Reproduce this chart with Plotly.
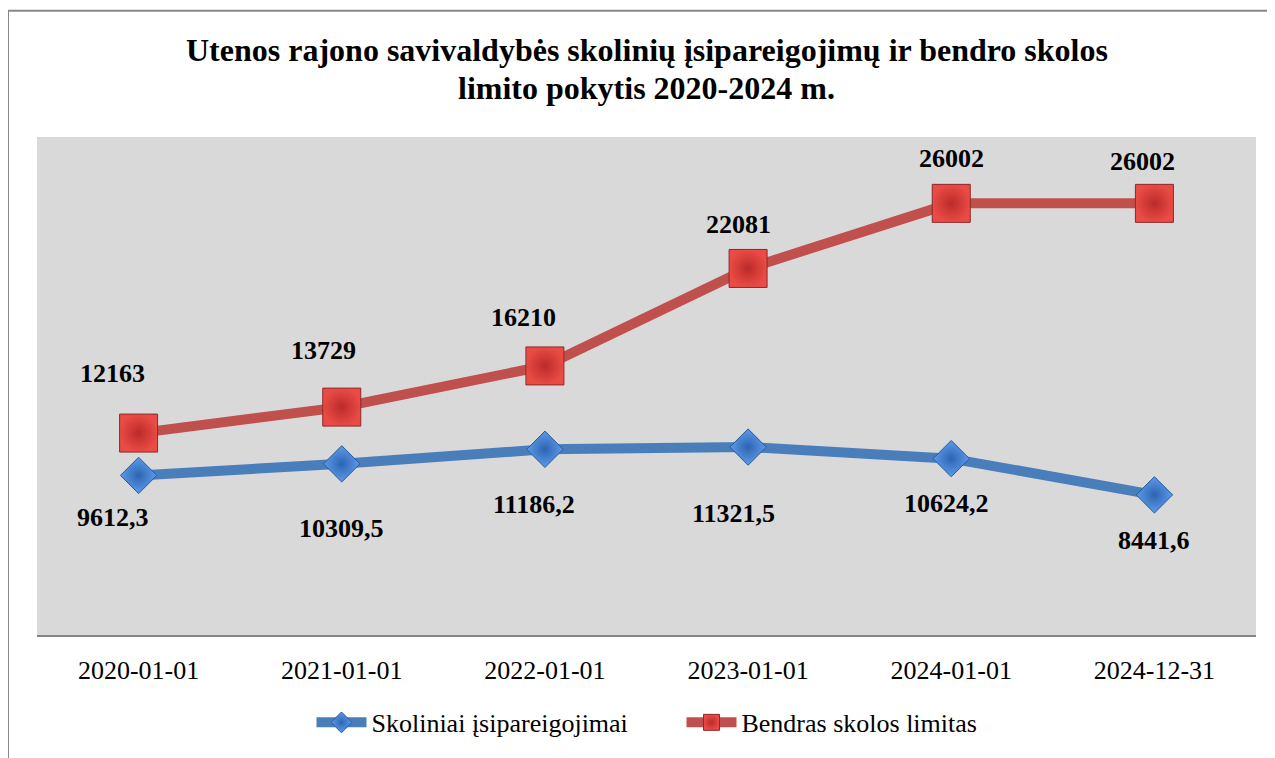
import plotly.graph_objects as go

categories = ["2020-01-01", "2021-01-01", "2022-01-01", "2023-01-01", "2024-01-01", "2024-12-31"]
skoliniai = [9612.3, 10309.5, 11186.2, 11321.5, 10624.2, 8441.6]
limitas = [12163, 13729, 16210, 22081, 26002, 26002]
skoliniai_labels = ["9612,3", "10309,5", "11186,2", "11321,5", "10624,2", "8441,6"]
limitas_labels = ["12163", "13729", "16210", "22081", "26002", "26002"]
title_lines = ["Utenos rajono savivaldybės skolinių įsipareigojimų ir bendro skolos",
               "limito pokytis 2020-2024 m."]

# label offsets (pixels) for data labels
blue_dx = [-26, 0, -11, -15, -5, 0]
blue_dy = [-42, -65, -55, -66, -45, -46]
red_dx = [-26, -18, -21, -10, 0, -12]
red_dy = [60, 57, 48, 44, 45, 42]

FONT = "Liberation Serif, Times New Roman, serif"

fig = go.Figure()
fig.add_trace(go.Scatter(
    x=categories, y=skoliniai, mode="lines+markers", name="Skoliniai įsipareigojimai",
    line=dict(color="#4a7ebb", width=10),
    marker=dict(symbol="diamond", size=28, color="#5b9bec",
                line=dict(color="#2b5a94", width=1),
                gradient=dict(type="radial", color="#2e64b0")),
))
fig.add_trace(go.Scatter(
    x=categories, y=limitas, mode="lines+markers", name="Bendras skolos limitas",
    line=dict(color="#c0504d", width=10),
    marker=dict(symbol="square", size=38, color="#ea4b45",
                line=dict(color="#8c2a2a", width=1),
                gradient=dict(type="radial", color="#bb2b29")),
))

annotations = []
for i, c in enumerate(categories):
    annotations.append(dict(x=c, y=skoliniai[i], text=skoliniai_labels[i], showarrow=False,
                            xshift=blue_dx[i], yshift=blue_dy[i],
                            font=dict(family=FONT, size=26, color="black", weight="bold")))
    annotations.append(dict(x=c, y=limitas[i], text=limitas_labels[i], showarrow=False,
                            xshift=red_dx[i], yshift=red_dy[i],
                            font=dict(family=FONT, size=26, color="black", weight="bold")))
for txt, yy in zip(title_lines, [1.1737, 1.0978]):
    annotations.append(dict(x=0.5, y=yy, xref="paper", yref="paper", text=txt, showarrow=False,
                            xanchor="center", yanchor="middle",
                            font=dict(family=FONT, size=32, color="black", weight="bold")))

fig.update_layout(
    width=1267, height=750,
    margin=dict(l=29, r=19, t=129, b=120),
    paper_bgcolor="white", plot_bgcolor="#d9d9d9",
    font=dict(family=FONT, color="black"),
    showlegend=True,
    legend=dict(orientation="h", x=0.5287, xanchor="center", y=-0.1756, yanchor="middle",
                font=dict(family=FONT, size=26, color="black"), bgcolor="rgba(0,0,0,0)",
                itemwidth=50, entrywidth=305, entrywidthmode="pixels", traceorder="normal"),
    annotations=annotations,
    shapes=[
        dict(type="line", xref="paper", yref="paper", x0=-0.0238, x1=1.03, y0=1.2535, y1=1.2535,
             line=dict(color="#888888", width=2)),
        dict(type="line", xref="paper", yref="paper", x0=-0.0238, x1=-0.0238, y0=1.2535, y1=-0.26,
             line=dict(color="#888888", width=2)),
    ],
)
fig.update_xaxes(type="category", range=[-0.5, 5.5], showgrid=False, zeroline=False,
                 showline=True, linecolor="#868686", linewidth=2,
                 ticks="outside", ticklen=11, tickcolor="rgba(0,0,0,0)",
                 tickfont=dict(family=FONT, size=26, color="black"))
fig.update_yaxes(range=[0, 30000], showgrid=False, zeroline=False, showticklabels=False,
                 showline=False, ticks="")

fig.write_html("out.html")
